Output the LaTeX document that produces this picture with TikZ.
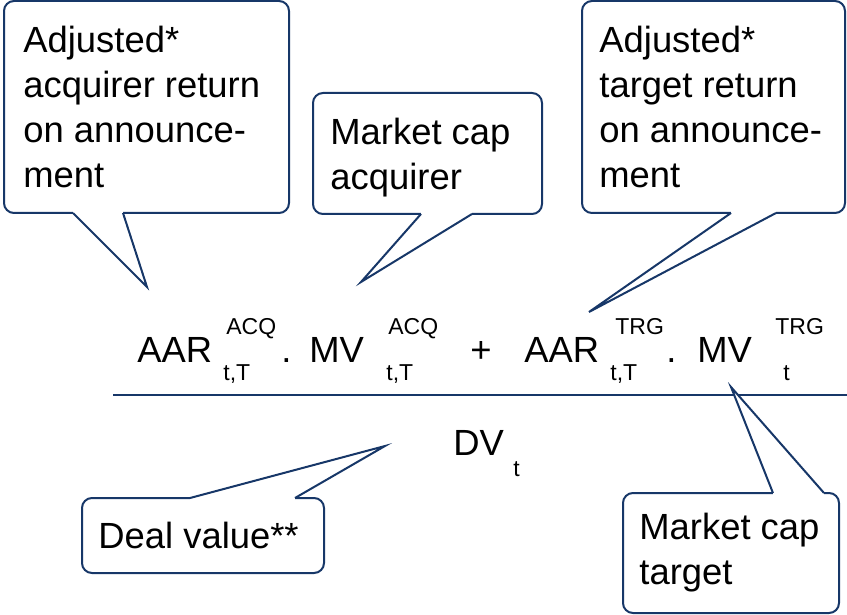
\documentclass[tikz,border=0pt]{standalone}
\usepackage{fontspec}
\setmainfont{Liberation Sans}
\definecolor{navy}{RGB}{23,55,104}
\begin{document}
\begin{tikzpicture}[x=0.5pt,y=-0.5pt,line join=miter]
\def\lw{1pt}   % line width
\tikzset{
  txt/.style={anchor=base west,inner sep=0pt,font=\fontsize{18.2}{22.5}\selectfont,align=left},
  scr/.style={anchor=base west,inner sep=0pt,font=\fontsize{11.5}{13}\selectfont}
}
% a callout: box corners #1 and #2, pointer base #3 and #4 on its edge, tip #5
\newcommand{\bubble}[5]{%
  \draw[navy,line width=\lw,rounded corners=5pt,fill=white] (#1) rectangle (#2);
  \fill[white] (#3) -- (#5) -- (#4) -- cycle;
  \draw[white,line width=2.5pt] (#3) -- (#4);
  \draw[navy,line width=\lw] (#3) -- (#5) -- (#4);
}
\useasboundingbox (0,0) rectangle (847,615);
% the numerator
\node[txt] (aar1) at (137,362) {AAR};
\node[scr] (acq1) at (226,335) {ACQ};
\node[scr] (tT1) at (223,380) {t,T};
\node[txt] (dot1) at (281,362) {.};
\node[txt] (mv1) at (309,362) {MV};
\node[scr] (acq2) at (388,335) {ACQ};
\node[scr] (tT2) at (386,380) {t,T};
\node[txt] (plus) at (470,362) {+};
\node[txt] (aar2) at (524,362) {AAR};
\node[scr] (trg1) at (615,335) {TRG};
\node[scr] (tT3) at (610,380) {t,T};
\node[txt] (dot2) at (666,362) {.};
\node[txt] (mv2) at (697,362) {MV};
\node[scr] (trg2) at (775,335) {TRG};
\node[scr] (t1) at (783,380) {t};
% fraction bar and the denominator
\coordinate (barl) at (113,395);
\coordinate (barr) at (847,395);
\draw[navy,line width=\lw] (barl) -- (barr);
\node[txt] (dv) at (453,455) {DV};
\node[scr] (t2) at (513,476) {t};
% pointer tips
\coordinate (tipa) at (147,287);
\coordinate (tipb) at (361,282);
\coordinate (tipc) at (589,312);
\coordinate (tipd) at (385,446);
\coordinate (tipe) at (731,387);
% pointer bases
\coordinate (a1) at (73,213);  \coordinate (a2) at (123,213);
\coordinate (b1) at (421,214); \coordinate (b2) at (472,214);
\coordinate (c1) at (731,213); \coordinate (c2) at (776,213);
\coordinate (d1) at (190,498); \coordinate (d2) at (295,498);
\coordinate (e1) at (773,493); \coordinate (e2) at (824,493);
% the callouts (text placed at the baseline of its last line)
\bubble{4,1}{289,213}{a1}{a2}{tipa}
\node[txt] (adjacq) at (23,188) {Adjusted*\\acquirer return\\on announce-\\ment};
\bubble{313,93}{542,214}{b1}{b2}{tipb}
\node[txt] (mcacq) at (330,190) {Market cap\\acquirer};
\bubble{582,1}{845,213}{c1}{c2}{tipc}
\node[txt] (adjtrg) at (599,188) {Adjusted*\\target return\\on announce-\\ment};
\bubble{82,498}{324,573}{d1}{d2}{tipd}
\node[txt] (deal) at (98,548) {Deal value**};
\bubble{623,493}{839,613}{e1}{e2}{tipe}
\node[txt] (mctrg) at (639,584) {Market cap\\target};
\end{tikzpicture}
\end{document}
